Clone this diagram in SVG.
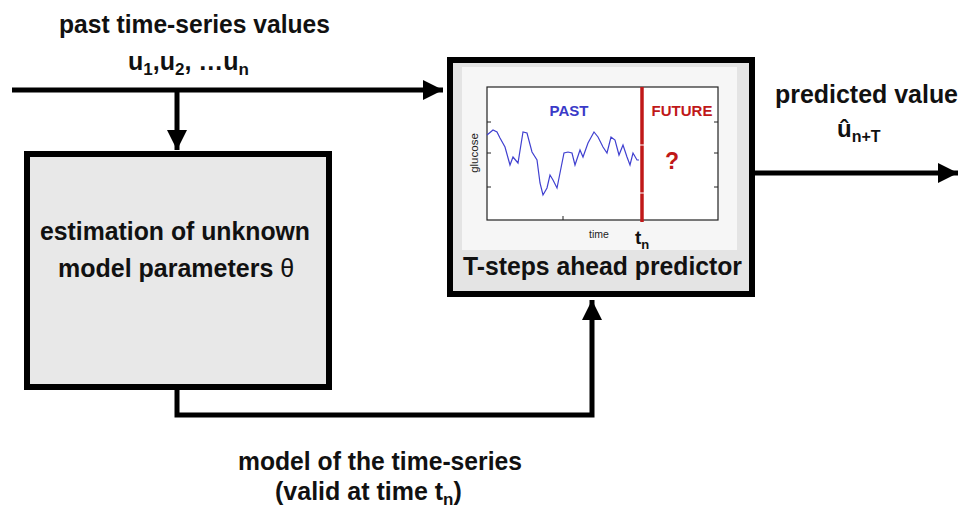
<svg xmlns="http://www.w3.org/2000/svg" width="960" height="516" viewBox="0 0 960 516">
<defs>
<style>
.t{font-family:"Liberation Sans",Arial,sans-serif;font-weight:bold;fill:#111;}
.c{fill:none;stroke:#000;stroke-width:5;}
.box{stroke:#000;stroke-width:6;}
</style>
<marker id="ah" markerUnits="userSpaceOnUse" markerWidth="22" markerHeight="22" refX="20" refY="10" orient="auto">
<path d="M0,0 L20,10 L0,20 Z" fill="#000"/>
</marker>
</defs>
<rect width="960" height="516" fill="#fff"/>

<g id="connectors">
<line class="c" x1="12" y1="90" x2="443" y2="90" marker-end="url(#ah)"/>
<line class="c" x1="177" y1="90" x2="177" y2="150" marker-end="url(#ah)"/>
<line class="c" x1="755" y1="173" x2="958" y2="173" marker-end="url(#ah)"/>
<polyline class="c" points="177,390 177,415 592,415 592,300" marker-end="url(#ah)"/>
</g>

<g id="label-input">
<text class="t" x="59" y="33" font-size="25" textLength="271" lengthAdjust="spacingAndGlyphs">past time-series values</text>
<text class="t" x="128" y="70" font-size="25">u<tspan font-size="17" dy="5">1</tspan><tspan dy="-5">,u</tspan><tspan font-size="17" dy="5">2</tspan><tspan dy="-5">, …u</tspan><tspan font-size="17" dy="5">n</tspan></text>
</g>

<g id="node-estimation">
<rect class="box" x="27" y="154" width="302" height="233" fill="#e8e8e8"/>
<text class="t" x="40" y="240" font-size="25" textLength="270" lengthAdjust="spacingAndGlyphs">estimation of unknown</text>
<text class="t" x="58" y="277" font-size="25">model parameters <tspan font-weight="normal">θ</tspan></text>
</g>

<g id="node-predictor">
<rect class="box" x="450" y="60" width="302" height="234" fill="#e4e4e4"/>
<rect x="462" y="67" width="275" height="183" fill="#f6f6f6"/>
<rect x="487" y="87" width="231" height="133" fill="#fff" stroke="#222" stroke-width="1.2"/>
<g stroke="#222" stroke-width="1">
<line x1="487" y1="122" x2="491" y2="122"/>
<line x1="487" y1="153" x2="491" y2="153"/>
<line x1="487" y1="187" x2="491" y2="187"/>
<line x1="718" y1="122" x2="714" y2="122"/>
<line x1="718" y1="153" x2="714" y2="153"/>
<line x1="718" y1="187" x2="714" y2="187"/>
<line x1="563" y1="220" x2="563" y2="216"/>
</g>
<polyline fill="none" stroke="#4040d0" stroke-width="1.2" points="487,135 493,130 497,132 500,138 505,147 510,165 513,157 518,163 523,132 527,133 532,152 537,160 540,183 543,195 547,188 550,175 553,180 557,188 560,173 564,153 568,152 572,153 575,165 580,150 583,157 588,143 594,132 598,137 603,147 607,153 611,137 615,140 619,155 623,145 627,157 630,165 633,153 637,160 639,160"/>
<line x1="642" y1="87" x2="642" y2="222" stroke="#c01818" stroke-width="3.5"/>
<g stroke="#fff" stroke-width="1">
<line x1="640" y1="145" x2="644" y2="145"/>
<line x1="640" y1="193" x2="644" y2="193"/>
</g>
<text class="t" x="569" y="116" font-size="15" text-anchor="middle" style="fill:#3a3ac8">PAST</text>
<text class="t" x="682" y="116" font-size="15" text-anchor="middle" style="fill:#c01818">FUTURE</text>
<text class="t" x="672" y="169" font-size="23" text-anchor="middle" style="fill:#c01818">?</text>
<text x="478" y="153" font-size="11.5" font-family="Liberation Sans,Arial,sans-serif" text-anchor="middle" fill="#222" transform="rotate(-90 478 153)">glucose</text>
<text x="599" y="238" font-size="10.5" font-family="Liberation Sans,Arial,sans-serif" text-anchor="middle" fill="#222">time</text>
<text class="t" x="635" y="244" font-size="19">t<tspan font-size="13" dy="5">n</tspan></text>
<text class="t" x="463" y="275" font-size="25" textLength="279" lengthAdjust="spacingAndGlyphs">T-steps ahead predictor</text>
</g>

<g id="label-output">
<text class="t" x="775" y="103" font-size="25" textLength="183" lengthAdjust="spacingAndGlyphs">predicted value</text>
<text class="t" x="837" y="137" font-size="24">û<tspan font-size="16" dy="5">n+T</tspan></text>
</g>

<g id="label-model">
<text class="t" x="238" y="470" font-size="25" textLength="284" lengthAdjust="spacingAndGlyphs">model of the time-series</text>
<text class="t" x="275" y="500" font-size="25">(valid at time t<tspan font-size="17" dy="5">n</tspan><tspan dy="-5">)</tspan></text>
</g>
</svg>
